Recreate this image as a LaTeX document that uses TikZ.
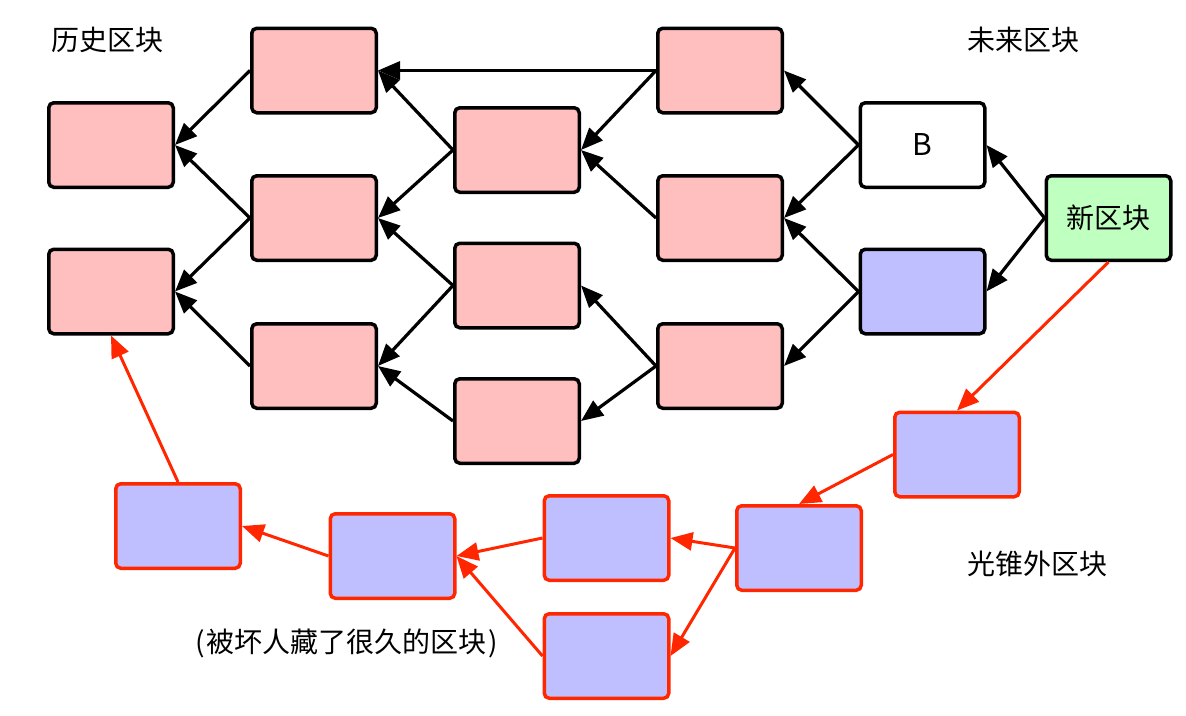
\documentclass[tikz,border=0pt]{standalone}
\usepackage{fontspec}
\setmainfont{Noto Sans CJK SC}
\usetikzlibrary{arrows.meta}
\definecolor{pinkf}{RGB}{255,191,191}
\definecolor{bluef}{RGB}{191,191,255}
\definecolor{greenf}{RGB}{191,255,191}
\definecolor{redl}{RGB}{255,38,0}
\begin{document}
\begin{tikzpicture}[x=1pt,y=-1pt,
 blk/.style={draw=black, line width=3.5pt, rounded corners=5pt, minimum width=124.5pt, minimum height=84.5pt, inner sep=0pt, fill=pinkf},
 hid/.style={draw=redl, line width=3.5pt, rounded corners=5pt, minimum width=124.5pt, minimum height=84.5pt, inner sep=0pt, fill=bluef},
 arr/.style={line width=3.2pt, -{Triangle[length=22pt,width=18pt]}},
 rarr/.style={draw=redl, line width=3pt, -{Triangle[length=22pt,width=18pt]}},
 lbl/.style={font=\fontsize{28}{32}\selectfont}]
\useasboundingbox (0,0) rectangle (1186,715);
% black-bordered blocks
\node[blk] (H1) at (111,145) {};
\node[blk] (H2) at (111,291.5) {};
\node[blk] (C1) at (314,70.5) {};
\node[blk] (C2) at (314,218) {};
\node[blk] (C3) at (314,366) {};
\node[blk] (D1) at (517,150) {};
\node[blk] (D2) at (517,285.5) {};
\node[blk] (D3) at (517,421) {};
\node[blk] (E1) at (720,70.5) {};
\node[blk] (E2) at (720,218) {};
\node[blk] (E3) at (720,366) {};
\node[blk, fill=white, font=\fontsize{30}{34}\selectfont] (B) at (922.5,145) {B};
\node[blk, fill=bluef] (BL) at (922.5,291.5) {};
\node[blk, fill=greenf, lbl] (N) at (1108.5,218) {新区块};
% hidden chain
\node[hid] (R1) at (957,454.5) {};
\node[hid] (R2) at (799,548) {};
\node[hid] (R3) at (606.5,538) {};
\node[hid] (R4) at (606.5,656) {};
\node[hid] (R5) at (392.5,556) {};
\node[hid] (R6) at (178,526) {};
% labels
\node[lbl] (L1) at (107.5,40) {历史区块};
\node[lbl] (L2) at (1023.5,40) {未来区块};
\node[lbl] (L3) at (1037,564) {光锥外区块};
\node[lbl] (L4) at (347,643) {(\kern2pt被坏人藏了很久的区块\kern2pt)};
% black arrows
\draw[arr] (C1.west) -- (H1.east);
\draw[arr] (C2.west) -- (H1.east);
\draw[arr] (C2.west) -- (H2.east);
\draw[arr] (C3.west) -- (H2.east);
\draw[arr] (D1.west) -- (C1.east);
\draw[arr] (D1.west) -- (C2.east);
\draw[arr] (D2.west) -- (C2.east);
\draw[arr] (D2.west) -- (C3.east);
\draw[arr] (D3.west) -- (C3.east);
\draw[arr] (E1.west) -- (C1.east);
\draw[arr] (E1.west) -- (D1.east);
\draw[arr] (E2.west) -- (D1.east);
\draw[arr] (E3.west) -- (D2.east);
\draw[arr] (E3.west) -- (D3.east);
\draw[arr] (B.west) -- (E1.east);
\draw[arr] (B.west) -- (E2.east);
\draw[arr] (BL.west) -- (E2.east);
\draw[arr] (BL.west) -- (E3.east);
\draw[arr] (N.west) -- (B.east);
\draw[arr] (N.west) -- (BL.east);
% red arrows
\draw[rarr] (N.south) -- (R1.north);
\draw[rarr] (R1.west) -- (R2.north);
\draw[rarr] (R2.west) -- (R3.east);
\draw[rarr] (R2.west) -- (R4.east);
\draw[rarr] (R3.west) -- (R5.east);
\draw[rarr] (R4.west) -- (R5.east);
\draw[rarr] (R5.west) -- (R6.east);
\draw[rarr] (R6.north) -- (H2.south);
\end{tikzpicture}
\end{document}
